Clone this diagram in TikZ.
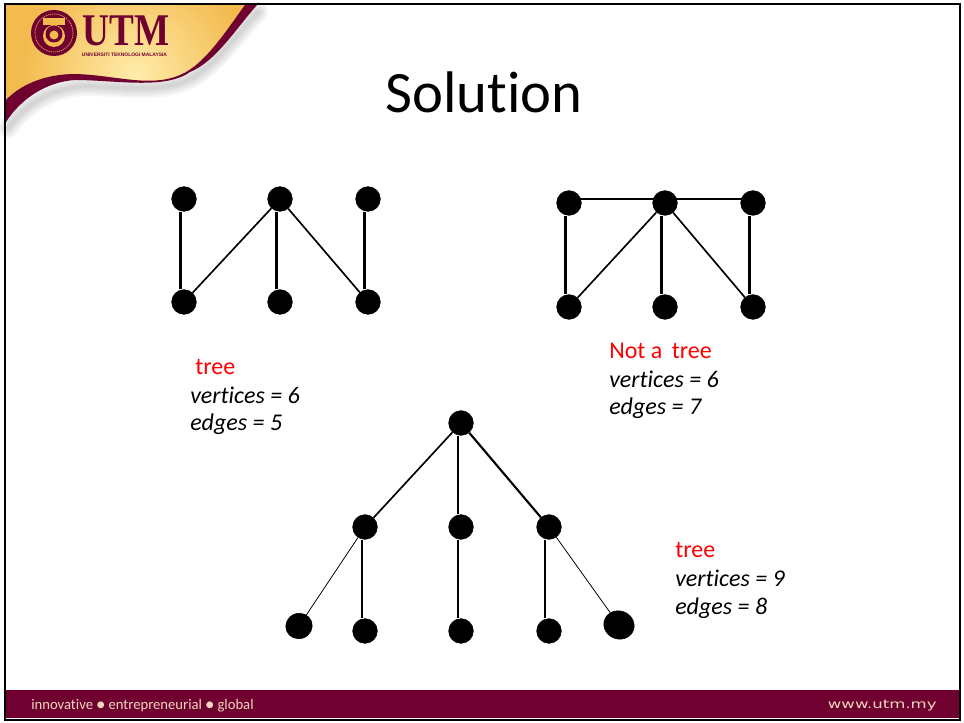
\documentclass[tikz,border=0pt]{standalone}
\usepackage{fontspec}
\setmainfont{Carlito}[Ligatures=NoCommon]
\newfontfamily\logofont{Liberation Serif}
\newfontfamily\capfont{Liberation Sans}
\newfontfamily\webfont{DejaVu Sans}
\usetikzlibrary{shapes}
\definecolor{utmmaroon}{RGB}{112,0,48}
\definecolor{utmgold}{RGB}{243,186,78}
\definecolor{utmlight}{RGB}{255,236,170}
\definecolor{footcream}{RGB}{240,215,190}
\tikzset{
    vertex/.style={circle,fill=black,draw=black,minimum size=18.5pt,inner sep=0pt},
    edge/.style={black,line width=2.1pt},
    slantedge/.style={black,line width=1.25pt},
    thinedge/.style={black,line width=0.6pt},
    info/.style={anchor=west,inner sep=0pt,font=\fontsize{18}{20}\selectfont\itshape},
    verdict/.style={anchor=west,inner sep=0pt,text=red,font=\fontsize{18}{20}\selectfont},
    shadowline/.style={black,opacity=0.035,line cap=round}
}
\begin{document}
\begin{tikzpicture}[x=0.75pt,y=-0.75pt]
    \useasboundingbox (0,0) rectangle (964,723);
    % banner
    \foreach \w in {3,6,9,12,15}
        \draw [shadowline,line width=\w pt] (8,128) .. controls (25,105) and (50,88) .. (85,86) .. controls (120,86) and (165,95) .. (195,76) .. controls (220,60) and (240,30) .. (258,12);
    \begin{scope}
        \clip (6,5) -- (250,5) .. controls (228,28) and (205,65) .. (180,75) .. controls (150,88) and (115,75) .. (75,74) .. controls (45,75) and (20,85) .. (6,100) -- cycle;
        \fill [utmgold] (0,0) rectangle (260,110);
        \shade [inner color=utmlight,outer color=utmgold] (135,75) circle (115);
    \end{scope}
    \fill [utmmaroon] (6,100) .. controls (20,85) and (45,74) .. (75,74) .. controls (115,75) and (150,88) .. (180,75) .. controls (205,65) and (228,28) .. (245,5) -- (257,5) .. controls (235,30) and (215,62) .. (190,72) .. controls (165,90) and (115,80) .. (75,80) .. controls (45,82) and (20,100) .. (6,122) -- cycle;
    % logo
    \fill [utmmaroon] (54,33) circle (23);
    \draw [utmgold,line width=0.5pt,dash pattern=on 1pt off 0.6pt] (54,33) circle (19);
    \fill [utmgold] (43,18) rectangle (65,25);
    \fill [utmgold] (51,25) rectangle (57,32);
    \fill [utmgold] (54,36) circle (11);
    \fill [utmmaroon] (54,34) circle (8.5);
    \fill [utmgold] (54,35) circle (4.5);
    \node [inner sep=0pt,text=utmmaroon,xscale=0.82] (utm) at (126,31) {\logofont\bfseries\fontsize{34}{34}\selectfont UTM};
    \node [inner sep=0pt,text=utmmaroon] (utmname) at (124.5,54.5) {\capfont\bfseries\fontsize{3.7}{3.7}\selectfont UNIVERSITI TEKNOLOGI MALAYSIA};
    % footer
    \fill [utmmaroon] (6,690) rectangle (959,718);
    \node [inner sep=0pt,anchor=west,text=footcream] (slogan) at (31,706) {\fontsize{11}{13}\selectfont innovative ● entrepreneurial ● global};
    \node [inner sep=0pt,anchor=east,text=footcream,xscale=1.38] (web) at (937,706) {\webfont\fontsize{9}{11}\selectfont www.utm.my};
    % frame
    \draw [black,line width=2.2pt] (5,4) rectangle (960,720);
    \node [inner sep=0pt] (title) at (484,92) {\fontsize{44}{50}\selectfont Solution};
    % first graph
    \node [vertex] (a1) at (184,199) {};
    \node [vertex] (a2) at (280,199) {};
    \node [vertex] (a3) at (368,199) {};
    \node [vertex] (a4) at (184,302) {};
    \node [vertex] (a5) at (280,302) {};
    \node [vertex] (a6) at (368,302) {};
    \draw [edge] ([xshift=-2.6pt]a1.south) -- ([xshift=-2.6pt]a4.north);
    \draw [slantedge] (a2) -- (a4);
    \draw [edge] ([xshift=-2.6pt]a2.south) -- ([xshift=-2.6pt]a5.north);
    \draw [slantedge] (a2) -- (a6);
    \draw [edge] ([xshift=-2.6pt]a3.south) -- ([xshift=-2.6pt]a6.north);
    \node [verdict] (v1) at (195,367) {tree};
    \node [info] (v2) at (190,395) {vertices = 6};
    \node [info] (v3) at (190,424) {edges = 5};
    % second graph
    \node [vertex] (b1) at (569,203) {};
    \node [vertex] (b2) at (665,203) {};
    \node [vertex] (b3) at (753,203) {};
    \node [vertex] (b4) at (569,307) {};
    \node [vertex] (b5) at (665,307) {};
    \node [vertex] (b6) at (753,307) {};
    \draw [edge] ([yshift=3pt]b1.center) -- ([yshift=3pt]b3.center);
    \draw [edge] ([xshift=-2.6pt]b1.south) -- ([xshift=-2.6pt]b4.north);
    \draw [slantedge] (b2) -- (b4);
    \draw [edge] ([xshift=-2.6pt]b2.south) -- ([xshift=-2.6pt]b5.north);
    \draw [slantedge] (b2) -- (b6);
    \draw [edge] ([xshift=-2.6pt]b3.south) -- ([xshift=-2.6pt]b6.north);
    \node [verdict] (w1) at (609,351) {Not a\, tree};
    \node [info] (w2) at (609,379) {vertices = 6};
    \node [info] (w3) at (609,408) {edges = 7};
    % third graph
    \node [vertex] (c1) at (461,423) {};
    \node [vertex] (c2) at (365,527) {};
    \node [vertex] (c3) at (461,527) {};
    \node [vertex] (c4) at (549,527) {};
    \node [vertex,ellipse,minimum width=20pt,minimum height=19pt,rotate=20] (c5) at (299,626) {};
    \node [vertex] (c6) at (365,631) {};
    \node [vertex] (c7) at (461,631) {};
    \node [vertex] (c8) at (549,631) {};
    \node [vertex,ellipse,minimum width=23pt,minimum height=21pt,rotate=-20] (c9) at (619,625) {};
    \draw [slantedge] (c1) -- (c2);
    \draw [edge] ([xshift=-2.25pt]c1.south) -- ([xshift=-2.25pt]c3.north);
    \draw [edge,line width=1.6pt] (c1) -- (c4);
    \draw [thinedge] (c2) -- (c5);
    \draw [edge] ([xshift=-2.25pt]c2.south) -- ([xshift=-2.25pt]c6.north);
    \draw [edge] ([xshift=-2.25pt]c3.south) -- ([xshift=-2.25pt]c7.north);
    \draw [edge] ([xshift=-3pt]c4.south) -- ([xshift=-3pt]c8.north);
    \draw [thinedge] (c4) -- (c9);
    \node [verdict] (x1) at (675,550) {tree};
    \node [info] (x2) at (675,578) {vertices = 9};
    \node [info] (x3) at (675,608) {edges = 8};
\end{tikzpicture}
\end{document}
